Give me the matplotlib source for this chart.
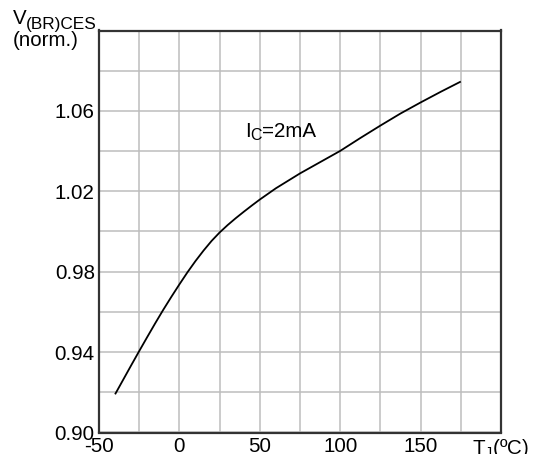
import matplotlib
matplotlib.use("Agg")
import matplotlib.pyplot as plt
import numpy as np

plt.rcParams['font.family'] = ['Liberation Sans', 'DejaVu Sans']
plt.rcParams['mathtext.fontset'] = 'custom'
plt.rcParams['mathtext.rm'] = 'Liberation Sans'
plt.rcParams['mathtext.it'] = 'Liberation Sans:italic'
plt.rcParams['mathtext.bf'] = 'Liberation Sans:bold'

# Data
temp_c = [-40, -35, -30, -25, -20, -15, -10, -5, 0, 5, 10, 15, 20, 25, 30, 35,
          40, 45, 50, 60, 75, 87.5, 100, 112.5, 125, 137.5, 150, 162.5, 175]
v_norm = [0.9190, 0.9262, 0.9334, 0.9405, 0.9475, 0.9544, 0.9611, 0.9675,
          0.9737, 0.9797, 0.9853, 0.9905, 0.9953, 0.9995, 1.0032, 1.0066,
          1.0098, 1.0129, 1.0159, 1.0215, 1.0289, 1.0345, 1.0401, 1.0465,
          1.0527, 1.0587, 1.0642, 1.0695, 1.0746]

x_ticks = [-50, 0, 50, 100, 150, 200]
x_ticklabels = ['-50', '0', '50', '100', '150', r'T$_\mathregular{J}$(ºC)']
y_ticks = [0.90, 0.94, 0.98, 1.02, 1.06]
y_ticklabels = ['0.90', '0.94', '0.98', '1.02', '1.06']

W, H = 535, 454
FS = 14.8
SUB = 12.4
fig = plt.figure(figsize=(W / 100, H / 100), dpi=100)
left, right, top, bottom = 99, 501, 30.5, 432.5
ax = fig.add_axes([left / W, 1 - bottom / H, (right - left) / W, (bottom - top) / H])

ax.plot(temp_c, v_norm, color='black', lw=1.3, solid_joinstyle='round',
        solid_capstyle='butt')

ax.set_xlim(-50, 200)
ax.set_ylim(0.90, 1.10)
ax.set_xticks(x_ticks)
ax.set_xticklabels(x_ticklabels)
ax.set_yticks(y_ticks)
ax.set_yticklabels(y_ticklabels)
ax.set_xticks(np.arange(-50, 201, 25), minor=True)
ax.set_yticks(np.arange(0.90, 1.1001, 0.02), minor=True)
ax.grid(True, which='both', color='#bdbdbd', lw=1.1)
ax.set_axisbelow(True)
ax.tick_params(which='both', length=0, labelsize=FS, pad=3, colors='black')
for s in ax.spines.values():
    s.set_color('#333333')
    s.set_linewidth(1.6)


def px(x, y):
    return x / W, 1 - y / H


# Y-axis title at the top left
fig.text(*px(13, 24), 'V', fontsize=FS, ha='left', va='baseline')
fig.text(*px(26, 28.5), '(BR)CES', fontsize=SUB, ha='left', va='baseline')
fig.text(*px(13, 46.5), '(norm.)', fontsize=FS, ha='left', va='baseline')

# Annotation
fig.text(*px(245, 136.7), 'I', fontsize=FS, ha='left', va='baseline')
fig.text(*px(250, 140.5), 'C', fontsize=11.5, ha='left', va='baseline')
fig.text(*px(262, 136.7), '=2mA', fontsize=FS, ha='left', va='baseline')

fig.savefig('out.png', dpi=100)
